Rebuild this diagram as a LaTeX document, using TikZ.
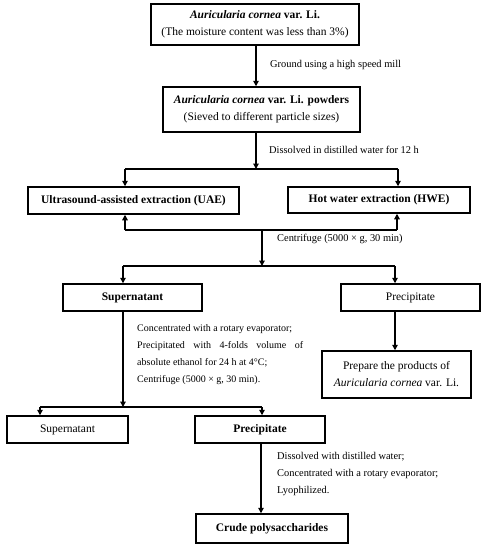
\documentclass[tikz,border=0pt]{standalone}
\usepackage{fontspec}
\setmainfont{Liberation Serif}
\usetikzlibrary{arrows.meta}
\begin{document}
\begin{tikzpicture}[x=1pt,y=-1pt,
  box/.style={draw,line width=1.5pt,align=center,inner sep=0pt,font=\fontsize{11.5}{17}\selectfont},
  lbl/.style={anchor=west,align=left,inner sep=0pt,font=\fontsize{10.4}{17}\selectfont},
  arr/.style={line width=1.2pt,-{Triangle[length=5.5pt,width=5.5pt]}},
  ln/.style={line width=1.2pt}]
\useasboundingbox (0,0) rectangle (487,550);
\node[box,minimum width=208pt,minimum height=41pt] (b1) at (255,24.5) {\textit{\textbf{Auricularia cornea}} \textbf{var. Li.}\\(The moisture content was less than 3\%)};
\node[box,minimum width=197pt,minimum height=45pt] (b2) at (261.5,109.5) {\textit{\textbf{Auricularia cornea}} \textbf{var. Li. powders}\\(Sieved to different particle sizes)};
\node[box,minimum width=211pt,minimum height=27pt] (uae) at (133.5,200.5) {\textbf{Ultrasound-assisted extraction (UAE)}};
\node[box,minimum width=182pt,minimum height=26pt] (hwe) at (379,200) {\textbf{Hot water extraction (HWE)}};
\node[box,minimum width=139pt,minimum height=27pt] (sup) at (132.5,297.5) {\textbf{Supernatant}};
\node[box,minimum width=139pt,minimum height=27pt] (pre) at (410.5,297.5) {Precipitate};
\node[box,minimum width=149pt,minimum height=47pt] (prep) at (396.5,374.5) {Prepare the products of\\\textit{Auricularia cornea} var. Li.};
\node[box,minimum width=121pt,minimum height=27pt] (sup2) at (67.5,429.5) {Supernatant};
\node[box,minimum width=130pt,minimum height=27pt] (pre2) at (260,429.5) {\textbf{Precipitate}};
\node[box,minimum width=152pt,minimum height=29pt] (crude) at (272,528.5) {\textbf{Crude polysaccharides}};
% coordinates
\coordinate (a1) at (256,45);
\coordinate (j1) at (256,169);
\coordinate (j1l) at (125,169);
\coordinate (j1r) at (398,169);
\coordinate (j2l) at (125,230);
\coordinate (j2r) at (397,230);
\coordinate (j2) at (262,230);
\coordinate (j3) at (262,266);
\coordinate (j3l) at (123,266);
\coordinate (j3r) at (395,266);
\coordinate (j4) at (123,407);
\coordinate (j4l) at (40,407);
\coordinate (j4r) at (262,407);
\coordinate (j5) at (261,443);
% connectors
\draw[arr] (a1) -- (a1 |- b2.north);
\draw[arr] (b2.south -| j1) -- (j1);
\draw[ln] (j1l) -- (j1r);
\draw[arr] (j1l) -- (j1l |- uae.north);
\draw[arr] (j1r) -- (j1r |- hwe.north);
\draw[ln] (j2l) -- (j2r);
\draw[arr] (j2l) -- (j2l |- uae.south);
\draw[arr] (j2r) -- (j2r |- hwe.south);
\draw[arr] (j2) -- (j3);
\draw[ln] (j3l) -- (j3r);
\draw[arr] (j3l) -- (j3l |- sup.north);
\draw[arr] (j3r) -- (j3r |- pre.north);
\draw[arr] (pre.south -| j3r) -- (j3r |- prep.north);
\draw[arr] (sup.south -| j4) -- (j4);
\draw[ln] (j4l) -- (j4r);
\draw[arr] (j4l) -- (j4l |- sup2.north);
\draw[arr] (j4r) -- (j4r |- pre2.north);
\draw[arr] (j5) -- (j5 |- crude.north);
% labels
\node[lbl] (l1) at (270,65) {Ground using a high speed mill};
\node[lbl] (l2) at (269,150) {Dissolved in distilled water for 12 h};
\node[lbl] (l3) at (277,239) {Centrifuge (5000 × g, 30 min)};
\node[lbl,anchor=north west,font=\fontsize{10}{17}\selectfont] (l4) at (137,324) {Concentrated with a rotary evaporator;\\\makebox[166pt][s]{Precipitated with 4-folds volume of}\\absolute ethanol for 24 h at 4°C;\\Centrifuge (5000 × g, 30 min).};
\node[lbl,anchor=north west] (l5) at (277,452) {Dissolved with distilled water;\\Concentrated with a rotary evaporator;\\Lyophilized.};
\end{tikzpicture}
\end{document}
